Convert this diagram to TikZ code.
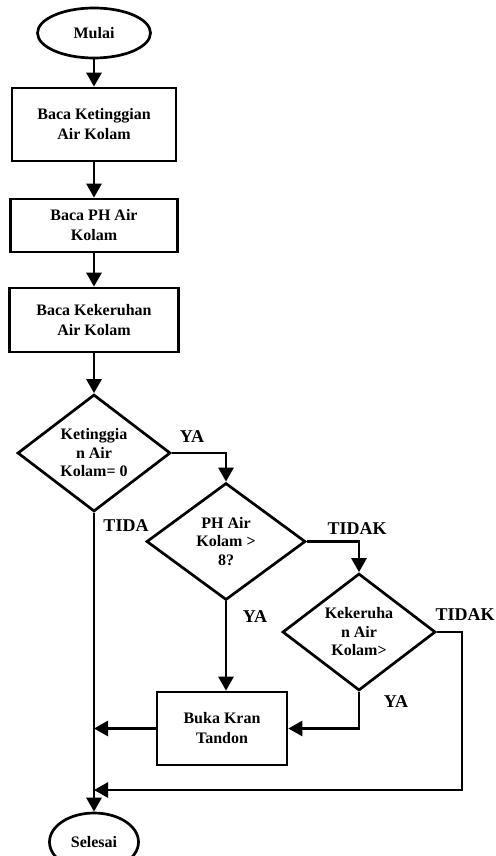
\documentclass[tikz,border=0pt]{standalone}
\usepackage{fontspec}
\setmainfont{Liberation Serif}
\usetikzlibrary{shapes.geometric,arrows.meta}

\begin{document}
\begin{tikzpicture}[
    x=1pt, y=-1pt,
    garis/.style    = {line width=2.7pt},
    panah/.style    = {garis, -{Triangle[length=14pt,width=15pt]}},
    kotak/.style    = {draw, garis, rectangle, inner sep=0pt, align=center,
                       font=\fontsize{16}{20}\selectfont\bfseries},
    kondisi/.style  = {draw, garis, diamond, inner sep=0pt, align=center,
                       font=\fontsize{16}{18.5}\selectfont\bfseries},
    terminal/.style = {draw, garis, ellipse, inner sep=0pt,
                       font=\fontsize{16}{18}\selectfont\bfseries},
    ket/.style      = {inner sep=0pt, font=\fontsize{18}{18}\selectfont\bfseries},
  ]
  \useasboundingbox (0,0) rectangle (495,856);
  % Mulai dan proses baca sensor
  \node[terminal, minimum width=113pt, minimum height=50pt] (mulai) at (94,33) {Mulai};
  \node[kotak, minimum width=164pt, minimum height=73pt] (baca1) at (94,124.5) {Baca Ketinggian\\Air Kolam};
  \node[kotak, minimum width=167pt, minimum height=53pt] (baca2) at (94,225.5) {Baca PH Air\\Kolam};
  \node[kotak, minimum width=169pt, minimum height=64pt] (baca3) at (94,320) {Baca Kekeruhan\\Air Kolam};
  % Kondisi
  \node[kondisi, shape aspect=1.31, minimum width=153pt, minimum height=117pt] (cekTinggi) at (94,453) {Ketinggia\\n Air\\Kolam= 0};
  \node[kondisi, shape aspect=1.36, minimum width=159pt, minimum height=117pt] (cekPH) at (226,541.5) {PH Air\\Kolam >\\8?};
  \node[kondisi, shape aspect=1.31, minimum width=153pt, minimum height=117pt] (cekKeruh) at (359,632) {Kekeruha\\n Air\\Kolam>};
  % Aksi dan selesai
  \node[kotak, minimum width=130pt, minimum height=73pt] (buka) at (222,728.5) {Buka Kran\\Tandon};
  \node[terminal, minimum width=89pt, minimum height=58pt] (selesai) at (94,842) {Selesai};
  \coordinate (balik) at (462,790);
  % Alur
  \draw[panah] (mulai) -- (baca1);
  \draw[panah] (baca1) -- (baca2);
  \draw[panah] (baca2) -- (baca3);
  \draw[panah] (baca3) -- (cekTinggi);
  \draw[panah] (cekTinggi.east) -| (cekPH.north);
  \draw[panah] (cekPH.east) -| (cekKeruh.north);
  \draw[panah] (cekPH.south) -- (cekPH.south |- buka.north);
  \draw[panah] (cekKeruh.south) |- (buka.east);
  \draw[panah] (buka.west) -- (buka.west -| cekTinggi.south);
  \draw[panah] (cekTinggi.south) -- (selesai.north);
  \draw[panah] (cekKeruh.east) -| (balik) -- (balik -| cekTinggi.south);
  % Keterangan
  \node[ket] (ya1) at (192,437) {YA};
  \node[ket] (tida) at (126,526) {TIDA};
  \node[ket] (tidak1) at (357,529) {TIDAK};
  \node[ket] (ya2) at (255,617) {YA};
  \node[ket] (tidak2) at (465,615) {TIDAK};
  \node[ket] (ya3) at (396,702) {YA};
\end{tikzpicture}
\end{document}
